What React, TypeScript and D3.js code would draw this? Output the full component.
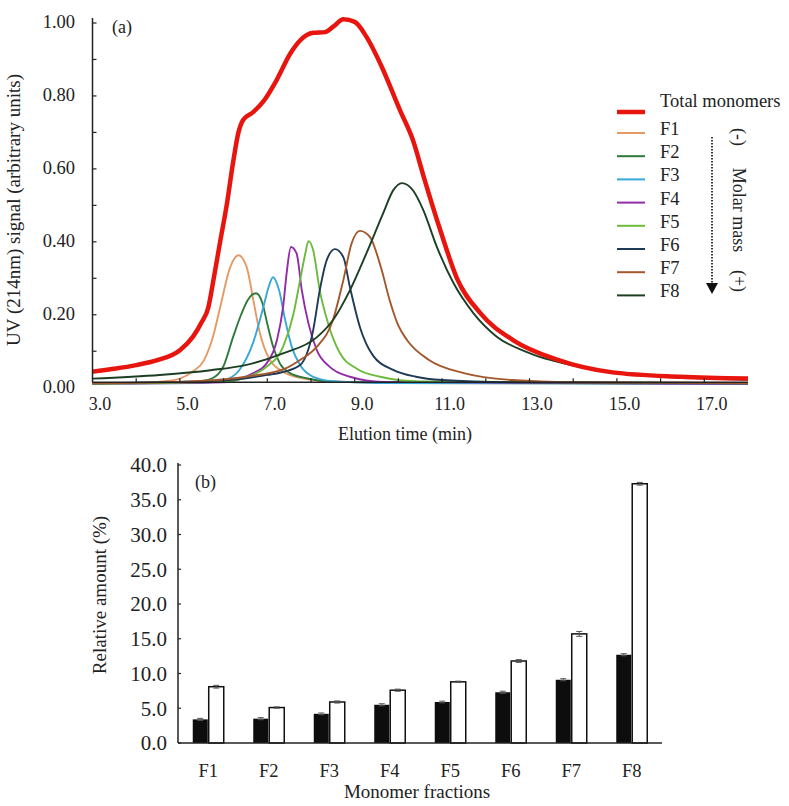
import React from 'react';
import * as d3 from 'd3';

// elution profiles, [time (min), UV signal]
const totalMonomers: [number, number][] = [
  [3.0, 0.044], [3.5, 0.052], [4.0, 0.062], [4.5, 0.076], [5.0, 0.103], [5.3, 0.14],
  [5.5, 0.18], [5.65, 0.22], [5.76, 0.29], [5.92, 0.40], [6.07, 0.50], [6.22, 0.62],
  [6.34, 0.70], [6.45, 0.735], [6.67, 0.755], [6.91, 0.785], [7.22, 0.845], [7.52, 0.915],
  [7.75, 0.952], [8.05, 0.973], [8.32, 0.975], [8.51, 0.99], [8.74, 1.01], [9.0, 1.003],
  [9.27, 0.962], [9.6, 0.885], [10.04, 0.76], [10.33, 0.68], [10.6, 0.57], [10.95, 0.435],
  [11.34, 0.30], [11.87, 0.205], [12.63, 0.13], [13.63, 0.077], [14.9, 0.042], [16.45, 0.03],
  [18.0, 0.025],
];
const f1: [number, number][] = [
  [3.0, 0.012], [4.0, 0.013], [4.6, 0.017], [5.0, 0.025], [5.3, 0.045], [5.55, 0.075],
  [5.77, 0.145], [5.92, 0.22], [6.15, 0.33], [6.34, 0.363], [6.53, 0.33], [6.68, 0.24],
  [6.83, 0.15], [7.06, 0.076], [7.36, 0.044], [7.8, 0.026], [8.5, 0.017], [10.0, 0.013],
  [18.0, 0.011],
];
const f2: [number, number][] = [
  [3.0, 0.012], [5.0, 0.014], [5.5, 0.018], [5.8, 0.03], [6.0, 0.06], [6.22, 0.14],
  [6.4, 0.2], [6.55, 0.24], [6.74, 0.259], [6.88, 0.235], [7.0, 0.175], [7.14, 0.11],
  [7.29, 0.066], [7.52, 0.04], [7.9, 0.026], [8.6, 0.016], [18.0, 0.011],
];
const f3: [number, number][] = [
  [3.0, 0.011], [5.5, 0.013], [6.0, 0.02], [6.37, 0.05], [6.68, 0.125], [6.91, 0.221],
  [7.03, 0.276], [7.13, 0.303], [7.27, 0.267], [7.41, 0.185], [7.56, 0.112], [7.75, 0.062],
  [8.05, 0.03], [8.5, 0.018], [9.5, 0.013], [18.0, 0.011],
];
const f4: [number, number][] = [
  [3.0, 0.011], [6.0, 0.015], [6.4, 0.025], [6.68, 0.04], [6.98, 0.066], [7.22, 0.13],
  [7.36, 0.22], [7.45, 0.322], [7.54, 0.386], [7.67, 0.368], [7.79, 0.267], [7.94, 0.177],
  [8.13, 0.104], [8.43, 0.057], [8.89, 0.03], [9.65, 0.016], [18.0, 0.011],
];
const f5: [number, number][] = [
  [3.0, 0.011], [6.0, 0.016], [6.5, 0.028], [6.98, 0.057], [7.36, 0.112], [7.6, 0.203],
  [7.75, 0.295], [7.87, 0.368], [7.94, 0.402], [8.05, 0.377], [8.2, 0.267], [8.39, 0.177],
  [8.66, 0.095], [9.05, 0.052], [9.58, 0.03], [10.5, 0.017], [18.0, 0.012],
];
const f6: [number, number][] = [
  [3.0, 0.012], [6.0, 0.02], [7.0, 0.035], [7.36, 0.043], [7.75, 0.062], [8.05, 0.158],
  [8.2, 0.267], [8.36, 0.35], [8.55, 0.38], [8.74, 0.358], [8.89, 0.276], [9.12, 0.166],
  [9.42, 0.088], [9.88, 0.049], [10.4, 0.03], [11.0, 0.021], [12.5, 0.015], [18.0, 0.012],
];
const f7: [number, number][] = [
  [3.0, 0.012], [5.0, 0.016], [6.5, 0.03], [7.36, 0.05], [7.75, 0.076], [8.13, 0.112],
  [8.5, 0.185], [8.74, 0.295], [8.93, 0.396], [9.12, 0.43], [9.35, 0.413], [9.6, 0.33],
  [9.8, 0.24], [10.0, 0.17], [10.2, 0.13], [10.7, 0.076], [11.5, 0.04], [12.6, 0.021],
  [14.0, 0.015], [18.0, 0.013],
];
const f8: [number, number][] = [
  [3.0, 0.025], [4.54, 0.035], [5.7, 0.048], [6.5, 0.062], [7.36, 0.094], [8.13, 0.138],
  [8.5, 0.185], [8.89, 0.267], [9.27, 0.369], [9.65, 0.478], [9.88, 0.541], [10.08, 0.561],
  [10.34, 0.54], [10.57, 0.487], [10.88, 0.386], [11.26, 0.287], [11.72, 0.204], [12.25, 0.14],
  [13.0, 0.095], [14.15, 0.057], [15.68, 0.035], [18.0, 0.022],
];

const fractionSeries = [f1, f2, f3, f4, f5, f6, f7, f8];
const fractionColors = ['#E59A63', '#2E7A3C', '#38A8D8', '#922CA8', '#6CBB3C', '#1F3A55', '#A3582C', '#1C3F24'];

const xTickLabels = [3, 5, 7, 9, 11, 13, 15, 17];
const xMinorTicks = [4, 5, 6, 7, 8, 9, 10, 11, 12, 13, 14, 15, 16, 17];
const yTickLabels = [0, 0.2, 0.4, 0.6, 0.8, 1.0];
const yMinorTicks = [0.1, 0.2, 0.3, 0.4, 0.5, 0.6, 0.7, 0.8, 0.9, 1.0];
const baselineSignal = 0.015;

// relative amounts (%)
const fractions = ['F1', 'F2', 'F3', 'F4', 'F5', 'F6', 'F7', 'F8'];
const filledBars = [3.4, 3.5, 4.2, 5.5, 5.9, 7.3, 9.1, 12.7];
const filledErr = [0.15, 0.15, 0.12, 0.15, 0.12, 0.15, 0.15, 0.15];
const openBars = [8.1, 5.1, 5.9, 7.6, 8.8, 11.8, 15.7, 37.3];
const openErr = [0.2, 0.1, 0.15, 0.15, 0.1, 0.2, 0.35, 0.2];
const barTicks = [0, 5, 10, 15, 20, 25, 30, 35, 40];

const FONT = '"Liberation Serif", "Times New Roman", serif';

export default function App() {
  // panel (a)
  const x = d3.scaleLinear().domain([3, 18]).range([92.5, 748]);
  const y = d3.scaleLinear().domain([0, 1]).range([387.7, 23]);
  const line = d3.line<[number, number]>().x(d => x(d[0])).y(d => y(d[1])).curve(d3.curveMonotoneX);
  const axisY = y(baselineSignal);

  // panel (b)
  const xb = d3.scaleBand().domain(fractions).range([178, 662]);
  const xs = d3.scaleBand().domain(['filled', 'open']).range([14.75, 45.75]).paddingInner(0.06);
  const yb = d3.scaleLinear().domain([0, 40]).range([743, 465]);

  const legendY = (i: number) => 133 + i * 23.2;

  return (
    <svg width={789} height={806} style={{ position: 'absolute', left: 0, top: 0, background: '#fff' }}
      fontFamily={FONT}>
      {/* (a) elution profiles */}
      <g>
        {fractionSeries.map((s, i) => (
          <path key={i} d={line(s) || ''} fill="none" stroke={fractionColors[i]} strokeWidth={1.9} />
        ))}
        <path d={line(totalMonomers) || ''} fill="none" stroke="#E8150F" strokeWidth={4.5} strokeLinejoin="round" />

        <line x1={x(3)} x2={x(3)} y1={18} y2={axisY} stroke="#222" strokeWidth={1.5} />
        <line x1={x(3)} x2={x(18)} y1={axisY} y2={axisY} stroke="#222" strokeWidth={1.5} />
        {yMinorTicks.map(v => (
          <line key={v} x1={x(3)} x2={x(3) + 4} y1={y(v)} y2={y(v)} stroke="#222" strokeWidth={1.2} />
        ))}
        {xMinorTicks.map(v => (
          <line key={v} x1={x(v)} x2={x(v)} y1={axisY} y2={axisY - 4} stroke="#222" strokeWidth={1.2} />
        ))}
        {yTickLabels.map(v => (
          <text key={v} x={75} y={y(v) - 1} dy="0.35em" textAnchor="end" fontSize={18.5} fill="#222">
            {v.toFixed(2)}
          </text>
        ))}
        {xTickLabels.map(v => (
          <text key={v} x={x(v) + 7.5} y={410} textAnchor="middle" fontSize={18} fill="#222">
            {v.toFixed(1)}
          </text>
        ))}
        <text x={405} y={440} textAnchor="middle" fontSize={18} fill="#222">Elution time (min)</text>
        <text transform="translate(20,210) rotate(-90)" textAnchor="middle" fontSize={19} fill="#222">
          UV (214nm) signal (arbitrary units)
        </text>
        <text x={112} y={33} fontSize={18} fill="#222">(a)</text>

        {/* legend */}
        <line x1={617} x2={645} y1={112} y2={112} stroke="#E8150F" strokeWidth={4.5} />
        <text x={660} y={107} fontSize={18.5} fill="#222">Total monomers</text>
        {fractions.map((f, i) => (
          <g key={f}>
            <line x1={617} x2={645} y1={legendY(i)} y2={legendY(i)} stroke={fractionColors[i]} strokeWidth={2} />
            <text x={660} y={legendY(i) + 2} fontSize={18.5} fill="#222">{f}</text>
          </g>
        ))}
        <line x1={712} x2={712} y1={137} y2={283} stroke="#222" strokeWidth={1.8} strokeDasharray="1.5,1.5" />
        <path d="M706,283 L718,283 L712,294 Z" fill="#111" />
        <text transform="translate(733,137) rotate(90)" textAnchor="middle" fontSize={18} fill="#222">(-)</text>
        <text transform="translate(733,210) rotate(90)" textAnchor="middle" fontSize={18} fill="#222">Molar mass</text>
        <text transform="translate(733,281) rotate(90)" textAnchor="middle" fontSize={18} fill="#222">(+)</text>
      </g>

      {/* (b) relative amounts */}
      <g>
        {fractions.map((f, i) => {
          const x0 = xb(f)!;
          const xf = x0 + xs('filled')!;
          const xo = x0 + xs('open')!;
          const w = xs.bandwidth();
          return (
            <g key={f}>
              <rect x={xf} y={yb(filledBars[i])} width={w} height={yb(0) - yb(filledBars[i])} fill="#0d0d0d" />
              <rect x={xo} y={yb(openBars[i])} width={w} height={yb(0) - yb(openBars[i])} fill="#fff"
                stroke="#111" strokeWidth={1.5} />
              {[[xf, filledBars[i], filledErr[i]], [xo, openBars[i], openErr[i]]].map(([bx, v, e], k) => (
                <g key={k} stroke="#555" strokeWidth={1}>
                  <line x1={bx + w / 2} x2={bx + w / 2} y1={yb(v + e)} y2={yb(v - e)} />
                  <line x1={bx + w / 2 - 3} x2={bx + w / 2 + 3} y1={yb(v + e)} y2={yb(v + e)} />
                  <line x1={bx + w / 2 - 3} x2={bx + w / 2 + 3} y1={yb(v - e)} y2={yb(v - e)} />
                </g>
              ))}
            </g>
          );
        })}
        <line x1={178} x2={178} y1={463} y2={743} stroke="#222" strokeWidth={1.5} />
        <line x1={178} x2={662} y1={743} y2={743} stroke="#222" strokeWidth={1.5} />
        {barTicks.map(v => (
          <g key={v}>
            <line x1={178} x2={181} y1={yb(v)} y2={yb(v)} stroke="#222" strokeWidth={1.2} />
            <text x={167} y={yb(v)} dy="0.35em" textAnchor="end" fontSize={21} fill="#222">{v.toFixed(1)}</text>
          </g>
        ))}
        {fractions.map(f => (
          <text key={f} x={xb(f)! + xb.bandwidth() / 2} y={777} textAnchor="middle" fontSize={18.5} fill="#222">{f}</text>
        ))}
        <text x={417} y={798} textAnchor="middle" fontSize={19} fill="#222">Monomer fractions</text>
        <text transform="translate(106,595) rotate(-90)" textAnchor="middle" fontSize={19} fill="#222">
          Relative amount (%)
        </text>
        <text x={195} y={488} fontSize={18} fill="#222">(b)</text>
      </g>
    </svg>
  );
}
